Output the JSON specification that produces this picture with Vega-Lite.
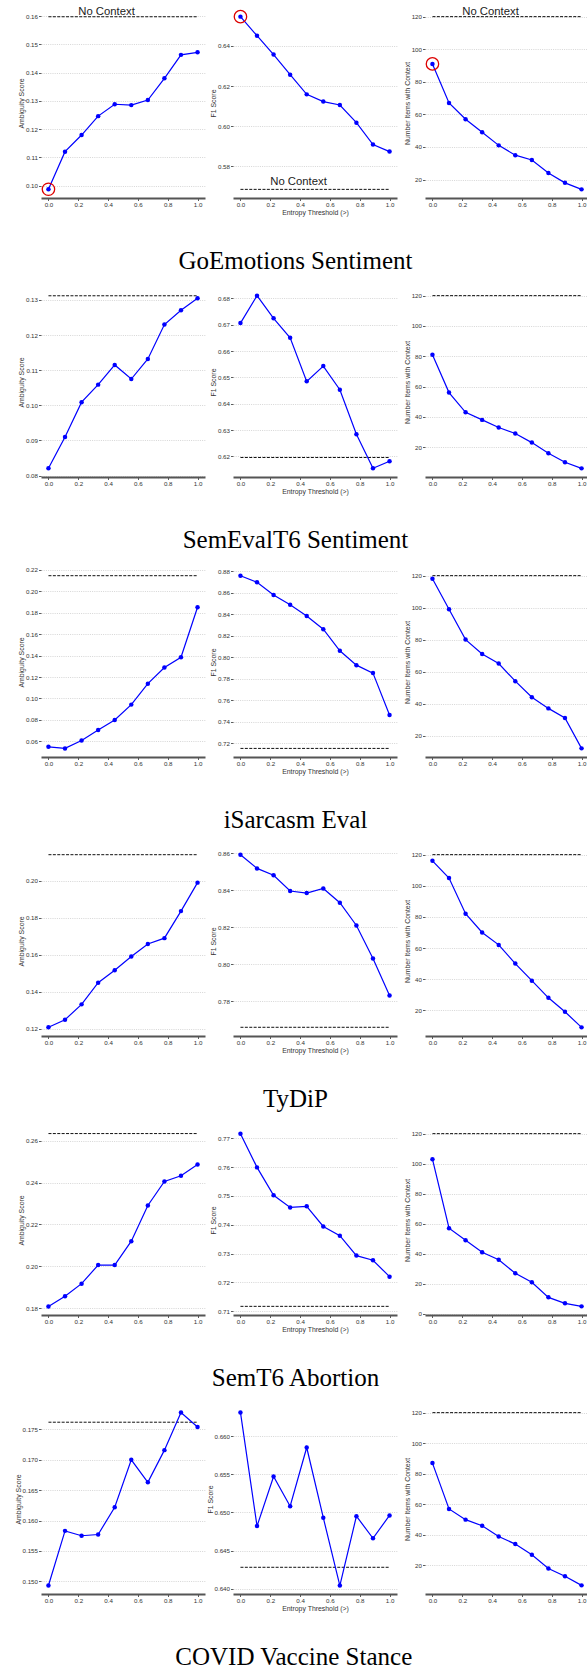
{
"$schema":"https://vega.github.io/schema/vega-lite/v6.json",
"background":"white",
"padding":{"left":14,"top":6,"right":0,"bottom":0},
"spacing":12,
"config":{
 "view":{"stroke":null},
 "axis":{"labelFont":"Liberation Sans","labelFontSize":6.2,"labelColor":"#333","titleFont":"Liberation Sans","titleFontSize":6.9,"titleFontWeight":"normal","titleColor":"#333","tickColor":"#333","tickWidth":0.8,"tickSize":2.5,"labelPadding":1,"labelFlush":false,"labelOverlap":false},
 "axisY":{"domain":false,"grid":true,"gridColor":"#bbb","gridDash":[1,1.2],"gridWidth":0.6,"titlePadding":0.5},
 "axisX":{"grid":false,"domainColor":"#555","domainWidth":1.8,"titlePadding":1.5,"labelPadding":1.2},
 "title":{"font":"Liberation Serif","fontSize":25,"fontWeight":"normal","color":"#000","orient":"bottom","anchor":"middle","offset":34,"dx":-8}
},
"datasets":{
 "ctx":[
  {"ds":"go","m":"amb","v":0.1598},{"ds":"go","m":"f1","v":0.5686},{"ds":"go","m":"n","v":120},
  {"ds":"se","m":"amb","v":0.1312},{"ds":"se","m":"f1","v":0.6196},{"ds":"se","m":"n","v":120},
  {"ds":"is","m":"amb","v":0.2144},{"ds":"is","m":"f1","v":0.7150},{"ds":"is","m":"n","v":120},
  {"ds":"ty","m":"amb","v":0.2142},{"ds":"ty","m":"f1","v":0.7660},{"ds":"ty","m":"n","v":120},
  {"ds":"ab","m":"amb","v":0.2635},{"ds":"ab","m":"f1","v":0.7117},{"ds":"ab","m":"n","v":120},
  {"ds":"cv","m":"amb","v":0.1762},{"ds":"cv","m":"f1","v":0.6428},{"ds":"cv","m":"n","v":120}
 ],
 "pts":[
  {"ds":"go","m":"amb","t":0,"v":0.0987},{"ds":"go","m":"amb","t":0.1111,"v":0.1120},{"ds":"go","m":"amb","t":0.2222,"v":0.1179},{"ds":"go","m":"amb","t":0.3333,"v":0.1246},{"ds":"go","m":"amb","t":0.4444,"v":0.1288},{"ds":"go","m":"amb","t":0.5556,"v":0.1285},{"ds":"go","m":"amb","t":0.6667,"v":0.1303},{"ds":"go","m":"amb","t":0.7778,"v":0.1380},{"ds":"go","m":"amb","t":0.8889,"v":0.1463},{"ds":"go","m":"amb","t":1,"v":0.1472},
  {"ds":"go","m":"f1","t":0,"v":0.6546},{"ds":"go","m":"f1","t":0.1111,"v":0.6451},{"ds":"go","m":"f1","t":0.2222,"v":0.6357},{"ds":"go","m":"f1","t":0.3333,"v":0.6257},{"ds":"go","m":"f1","t":0.4444,"v":0.6159},{"ds":"go","m":"f1","t":0.5556,"v":0.6123},{"ds":"go","m":"f1","t":0.6667,"v":0.6106},{"ds":"go","m":"f1","t":0.7778,"v":0.6018},{"ds":"go","m":"f1","t":0.8889,"v":0.5909},{"ds":"go","m":"f1","t":1,"v":0.5874},
  {"ds":"go","m":"n","t":0,"v":91},{"ds":"go","m":"n","t":0.1111,"v":67},{"ds":"go","m":"n","t":0.2222,"v":57},{"ds":"go","m":"n","t":0.3333,"v":49},{"ds":"go","m":"n","t":0.4444,"v":41},{"ds":"go","m":"n","t":0.5556,"v":35},{"ds":"go","m":"n","t":0.6667,"v":32},{"ds":"go","m":"n","t":0.7778,"v":24},{"ds":"go","m":"n","t":0.8889,"v":18},{"ds":"go","m":"n","t":1,"v":14},
  {"ds":"se","m":"amb","t":0,"v":0.0821},{"ds":"se","m":"amb","t":0.1111,"v":0.0910},{"ds":"se","m":"amb","t":0.2222,"v":0.1009},{"ds":"se","m":"amb","t":0.3333,"v":0.1059},{"ds":"se","m":"amb","t":0.4444,"v":0.1115},{"ds":"se","m":"amb","t":0.5556,"v":0.1075},{"ds":"se","m":"amb","t":0.6667,"v":0.1132},{"ds":"se","m":"amb","t":0.7778,"v":0.1230},{"ds":"se","m":"amb","t":0.8889,"v":0.1271},{"ds":"se","m":"amb","t":1,"v":0.1305},
  {"ds":"se","m":"f1","t":0,"v":0.6706},{"ds":"se","m":"f1","t":0.1111,"v":0.6810},{"ds":"se","m":"f1","t":0.2222,"v":0.6724},{"ds":"se","m":"f1","t":0.3333,"v":0.6650},{"ds":"se","m":"f1","t":0.4444,"v":0.6485},{"ds":"se","m":"f1","t":0.5556,"v":0.6543},{"ds":"se","m":"f1","t":0.6667,"v":0.6453},{"ds":"se","m":"f1","t":0.7778,"v":0.6284},{"ds":"se","m":"f1","t":0.8889,"v":0.6155},{"ds":"se","m":"f1","t":1,"v":0.6182},
  {"ds":"se","m":"n","t":0,"v":81},{"ds":"se","m":"n","t":0.1111,"v":56},{"ds":"se","m":"n","t":0.2222,"v":43},{"ds":"se","m":"n","t":0.3333,"v":38},{"ds":"se","m":"n","t":0.4444,"v":33},{"ds":"se","m":"n","t":0.5556,"v":29},{"ds":"se","m":"n","t":0.6667,"v":23},{"ds":"se","m":"n","t":0.7778,"v":16},{"ds":"se","m":"n","t":0.8889,"v":10},{"ds":"se","m":"n","t":1,"v":6},
  {"ds":"is","m":"amb","t":0,"v":0.0550},{"ds":"is","m":"amb","t":0.1111,"v":0.0535},{"ds":"is","m":"amb","t":0.2222,"v":0.0609},{"ds":"is","m":"amb","t":0.3333,"v":0.0706},{"ds":"is","m":"amb","t":0.4444,"v":0.0800},{"ds":"is","m":"amb","t":0.5556,"v":0.0943},{"ds":"is","m":"amb","t":0.6667,"v":0.1138},{"ds":"is","m":"amb","t":0.7778,"v":0.1288},{"ds":"is","m":"amb","t":0.8889,"v":0.1384},{"ds":"is","m":"amb","t":1,"v":0.1850},
  {"ds":"is","m":"f1","t":0,"v":0.8760},{"ds":"is","m":"f1","t":0.1111,"v":0.8698},{"ds":"is","m":"f1","t":0.2222,"v":0.8581},{"ds":"is","m":"f1","t":0.3333,"v":0.8490},{"ds":"is","m":"f1","t":0.4444,"v":0.8385},{"ds":"is","m":"f1","t":0.5556,"v":0.8261},{"ds":"is","m":"f1","t":0.6667,"v":0.8060},{"ds":"is","m":"f1","t":0.7778,"v":0.7926},{"ds":"is","m":"f1","t":0.8889,"v":0.7852},{"ds":"is","m":"f1","t":1,"v":0.7461},
  {"ds":"is","m":"n","t":0,"v":118},{"ds":"is","m":"n","t":0.1111,"v":99},{"ds":"is","m":"n","t":0.2222,"v":80},{"ds":"is","m":"n","t":0.3333,"v":71},{"ds":"is","m":"n","t":0.4444,"v":65},{"ds":"is","m":"n","t":0.5556,"v":54},{"ds":"is","m":"n","t":0.6667,"v":44},{"ds":"is","m":"n","t":0.7778,"v":37},{"ds":"is","m":"n","t":0.8889,"v":31},{"ds":"is","m":"n","t":1,"v":12},
  {"ds":"ty","m":"amb","t":0,"v":0.1209},{"ds":"ty","m":"amb","t":0.1111,"v":0.1250},{"ds":"ty","m":"amb","t":0.2222,"v":0.1333},{"ds":"ty","m":"amb","t":0.3333,"v":0.1450},{"ds":"ty","m":"amb","t":0.4444,"v":0.1517},{"ds":"ty","m":"amb","t":0.5556,"v":0.1592},{"ds":"ty","m":"amb","t":0.6667,"v":0.1659},{"ds":"ty","m":"amb","t":0.7778,"v":0.1691},{"ds":"ty","m":"amb","t":0.8889,"v":0.1837},{"ds":"ty","m":"amb","t":1,"v":0.1991},
  {"ds":"ty","m":"f1","t":0,"v":0.8591},{"ds":"ty","m":"f1","t":0.1111,"v":0.8517},{"ds":"ty","m":"f1","t":0.2222,"v":0.8480},{"ds":"ty","m":"f1","t":0.3333,"v":0.8395},{"ds":"ty","m":"f1","t":0.4444,"v":0.8384},{"ds":"ty","m":"f1","t":0.5556,"v":0.8409},{"ds":"ty","m":"f1","t":0.6667,"v":0.8332},{"ds":"ty","m":"f1","t":0.7778,"v":0.8209},{"ds":"ty","m":"f1","t":0.8889,"v":0.8031},{"ds":"ty","m":"f1","t":1,"v":0.7832},
  {"ds":"ty","m":"n","t":0,"v":116},{"ds":"ty","m":"n","t":0.1111,"v":105},{"ds":"ty","m":"n","t":0.2222,"v":82},{"ds":"ty","m":"n","t":0.3333,"v":70},{"ds":"ty","m":"n","t":0.4444,"v":62},{"ds":"ty","m":"n","t":0.5556,"v":50},{"ds":"ty","m":"n","t":0.6667,"v":39},{"ds":"ty","m":"n","t":0.7778,"v":28},{"ds":"ty","m":"n","t":0.8889,"v":19},{"ds":"ty","m":"n","t":1,"v":9},
  {"ds":"ab","m":"amb","t":0,"v":0.1808},{"ds":"ab","m":"amb","t":0.1111,"v":0.1857},{"ds":"ab","m":"amb","t":0.2222,"v":0.1917},{"ds":"ab","m":"amb","t":0.3333,"v":0.2006},{"ds":"ab","m":"amb","t":0.4444,"v":0.2006},{"ds":"ab","m":"amb","t":0.5556,"v":0.2120},{"ds":"ab","m":"amb","t":0.6667,"v":0.2291},{"ds":"ab","m":"amb","t":0.7778,"v":0.2406},{"ds":"ab","m":"amb","t":0.8889,"v":0.2433},{"ds":"ab","m":"amb","t":1,"v":0.2487},
  {"ds":"ab","m":"f1","t":0,"v":0.7716},{"ds":"ab","m":"f1","t":0.1111,"v":0.7599},{"ds":"ab","m":"f1","t":0.2222,"v":0.7502},{"ds":"ab","m":"f1","t":0.3333,"v":0.7460},{"ds":"ab","m":"f1","t":0.4444,"v":0.7464},{"ds":"ab","m":"f1","t":0.5556,"v":0.7394},{"ds":"ab","m":"f1","t":0.6667,"v":0.7362},{"ds":"ab","m":"f1","t":0.7778,"v":0.7293},{"ds":"ab","m":"f1","t":0.8889,"v":0.7277},{"ds":"ab","m":"f1","t":1,"v":0.7220},
  {"ds":"ab","m":"n","t":0,"v":103},{"ds":"ab","m":"n","t":0.1111,"v":57},{"ds":"ab","m":"n","t":0.2222,"v":49},{"ds":"ab","m":"n","t":0.3333,"v":41},{"ds":"ab","m":"n","t":0.4444,"v":36},{"ds":"ab","m":"n","t":0.5556,"v":27},{"ds":"ab","m":"n","t":0.6667,"v":21},{"ds":"ab","m":"n","t":0.7778,"v":11},{"ds":"ab","m":"n","t":0.8889,"v":7},{"ds":"ab","m":"n","t":1,"v":5},
  {"ds":"cv","m":"amb","t":0,"v":0.1493},{"ds":"cv","m":"amb","t":0.1111,"v":0.1583},{"ds":"cv","m":"amb","t":0.2222,"v":0.1575},{"ds":"cv","m":"amb","t":0.3333,"v":0.1577},{"ds":"cv","m":"amb","t":0.4444,"v":0.1622},{"ds":"cv","m":"amb","t":0.5556,"v":0.1700},{"ds":"cv","m":"amb","t":0.6667,"v":0.1663},{"ds":"cv","m":"amb","t":0.7778,"v":0.1716},{"ds":"cv","m":"amb","t":0.8889,"v":0.1778},{"ds":"cv","m":"amb","t":1,"v":0.1754},
  {"ds":"cv","m":"f1","t":0,"v":0.6631},{"ds":"cv","m":"f1","t":0.1111,"v":0.6482},{"ds":"cv","m":"f1","t":0.2222,"v":0.6547},{"ds":"cv","m":"f1","t":0.3333,"v":0.6508},{"ds":"cv","m":"f1","t":0.4444,"v":0.6585},{"ds":"cv","m":"f1","t":0.5556,"v":0.6493},{"ds":"cv","m":"f1","t":0.6667,"v":0.6404},{"ds":"cv","m":"f1","t":0.7778,"v":0.6495},{"ds":"cv","m":"f1","t":0.8889,"v":0.6466},{"ds":"cv","m":"f1","t":1,"v":0.6496},
  {"ds":"cv","m":"n","t":0,"v":87},{"ds":"cv","m":"n","t":0.1111,"v":57},{"ds":"cv","m":"n","t":0.2222,"v":50},{"ds":"cv","m":"n","t":0.3333,"v":46},{"ds":"cv","m":"n","t":0.4444,"v":39},{"ds":"cv","m":"n","t":0.5556,"v":34},{"ds":"cv","m":"n","t":0.6667,"v":27},{"ds":"cv","m":"n","t":0.7778,"v":18},{"ds":"cv","m":"n","t":0.8889,"v":13},{"ds":"cv","m":"n","t":1,"v":7}
 ]
},
"vconcat":[
{"title":{"text":"GoEmotions Sentiment"},"bounds":"flush","spacing":28,"hconcat":[
 {"width":164,"height":190,
  "encoding":{"y":{"field":"v","type":"quantitative","scale":{"domain":[0.0956,0.1629],"nice":false,"zero":false},"axis":{"values":[0.10,0.11,0.12,0.13,0.14,0.15,0.16],"format":".2f","title":"Ambiguity Score"}}},
  "layer":[
   {"data":{"name":"ctx"},"transform":[{"filter":"datum.ds=='go'&&datum.m=='amb'"}],"mark":{"type":"rule","color":"#111","strokeWidth":1,"strokeDash":[3,1.4]},"encoding":{"x":{"datum":0,"type":"quantitative","scale":{"domain":[-0.05,1.05],"nice":false},"axis":{"values":[0,0.2,0.4,0.6,0.8,1],"format":".1f","title":null}},"x2":{"datum":1}}},
   {"data":{"name":"ctx"},"transform":[{"filter":"datum.ds=='go'&&datum.m=='amb'"}],"mark":{"type":"text","text":"No Context","align":"left","baseline":"alphabetic","dy":-1.5,"font":"Liberation Sans","fontSize":11.3,"color":"#222"},"encoding":{"x":{"datum":0.2,"type":"quantitative","scale":{"domain":[-0.05,1.05],"nice":false},"axis":{"values":[0,0.2,0.4,0.6,0.8,1],"format":".1f","title":null}}}},
   {"data":{"name":"pts"},"transform":[{"filter":"datum.ds=='go'&&datum.m=='amb'"}],"mark":{"type":"line","color":"#0000ff","strokeWidth":1.2,"point":{"filled":true,"size":20,"color":"#0000ff","opacity":1}},"encoding":{"x":{"field":"t","type":"quantitative","scale":{"domain":[-0.05,1.05],"nice":false},"axis":{"values":[0,0.2,0.4,0.6,0.8,1],"format":".1f","title":null}}}},
   {"data":{"name":"pts"},"transform":[{"filter":"datum.ds=='go'&&datum.m=='amb'&&datum.t==0"}],"mark":{"type":"point","shape":"circle","filled":false,"size":154,"stroke":"#dd0000","strokeWidth":1.3,"opacity":1},"encoding":{"x":{"field":"t","type":"quantitative","scale":{"domain":[-0.05,1.05],"nice":false},"axis":{"values":[0,0.2,0.4,0.6,0.8,1],"format":".1f","title":null}}}}
  ]},
 {"width":164,"height":190,
  "encoding":{"y":{"field":"v","type":"quantitative","scale":{"domain":[0.5643,0.6589],"nice":false,"zero":false},"axis":{"values":[0.58,0.60,0.62,0.64],"format":".2f","title":"F1 Score"}}},
  "layer":[
   {"data":{"name":"ctx"},"transform":[{"filter":"datum.ds=='go'&&datum.m=='f1'"}],"mark":{"type":"rule","color":"#111","strokeWidth":1,"strokeDash":[3,1.4]},"encoding":{"x":{"datum":0,"type":"quantitative","scale":{"domain":[-0.05,1.05],"nice":false},"axis":{"values":[0,0.2,0.4,0.6,0.8,1],"format":".1f","title":"Entropy Threshold (>)"}},"x2":{"datum":1}}},
   {"data":{"name":"ctx"},"transform":[{"filter":"datum.ds=='go'&&datum.m=='f1'"}],"mark":{"type":"text","text":"No Context","align":"left","baseline":"alphabetic","dy":-4.5,"font":"Liberation Sans","fontSize":11.3,"color":"#222"},"encoding":{"x":{"datum":0.2,"type":"quantitative","scale":{"domain":[-0.05,1.05],"nice":false},"axis":{"values":[0,0.2,0.4,0.6,0.8,1],"format":".1f","title":"Entropy Threshold (>)"}}}},
   {"data":{"name":"pts"},"transform":[{"filter":"datum.ds=='go'&&datum.m=='f1'"}],"mark":{"type":"line","color":"#0000ff","strokeWidth":1.2,"point":{"filled":true,"size":20,"color":"#0000ff","opacity":1}},"encoding":{"x":{"field":"t","type":"quantitative","scale":{"domain":[-0.05,1.05],"nice":false},"axis":{"values":[0,0.2,0.4,0.6,0.8,1],"format":".1f","title":"Entropy Threshold (>)"}}}},
   {"data":{"name":"pts"},"transform":[{"filter":"datum.ds=='go'&&datum.m=='f1'&&datum.t==0"}],"mark":{"type":"point","shape":"circle","filled":false,"size":154,"stroke":"#dd0000","strokeWidth":1.3,"opacity":1},"encoding":{"x":{"field":"t","type":"quantitative","scale":{"domain":[-0.05,1.05],"nice":false},"axis":{"values":[0,0.2,0.4,0.6,0.8,1],"format":".1f","title":"Entropy Threshold (>)"}}}}
  ]},
 {"width":164,"height":190,
  "encoding":{"y":{"field":"v","type":"quantitative","scale":{"domain":[8.7,125.3],"nice":false,"zero":false},"axis":{"values":[20,40,60,80,100,120],"format":"d","title":"Number Items with Context"}}},
  "layer":[
   {"data":{"name":"ctx"},"transform":[{"filter":"datum.ds=='go'&&datum.m=='n'"}],"mark":{"type":"rule","color":"#111","strokeWidth":1,"strokeDash":[3,1.4]},"encoding":{"x":{"datum":0,"type":"quantitative","scale":{"domain":[-0.05,1.05],"nice":false},"axis":{"values":[0,0.2,0.4,0.6,0.8,1],"format":".1f","title":null}},"x2":{"datum":1}}},
   {"data":{"name":"ctx"},"transform":[{"filter":"datum.ds=='go'&&datum.m=='n'"}],"mark":{"type":"text","text":"No Context","align":"left","baseline":"alphabetic","dy":-1.5,"font":"Liberation Sans","fontSize":11.3,"color":"#222"},"encoding":{"x":{"datum":0.2,"type":"quantitative","scale":{"domain":[-0.05,1.05],"nice":false},"axis":{"values":[0,0.2,0.4,0.6,0.8,1],"format":".1f","title":null}}}},
   {"data":{"name":"pts"},"transform":[{"filter":"datum.ds=='go'&&datum.m=='n'"}],"mark":{"type":"line","color":"#0000ff","strokeWidth":1.2,"point":{"filled":true,"size":20,"color":"#0000ff","opacity":1}},"encoding":{"x":{"field":"t","type":"quantitative","scale":{"domain":[-0.05,1.05],"nice":false},"axis":{"values":[0,0.2,0.4,0.6,0.8,1],"format":".1f","title":null}}}},
   {"data":{"name":"pts"},"transform":[{"filter":"datum.ds=='go'&&datum.m=='n'&&datum.t==0"}],"mark":{"type":"point","shape":"circle","filled":false,"size":154,"stroke":"#dd0000","strokeWidth":1.3,"opacity":1},"encoding":{"x":{"field":"t","type":"quantitative","scale":{"domain":[-0.05,1.05],"nice":false},"axis":{"values":[0,0.2,0.4,0.6,0.8,1],"format":".1f","title":null}}}}
  ]}
]},
{"title":{"text":"SemEvalT6 Sentiment"},"bounds":"flush","spacing":28,"hconcat":[
 {"width":164,"height":190,
  "encoding":{"y":{"field":"v","type":"quantitative","scale":{"domain":[0.0796,0.1337],"nice":false,"zero":false},"axis":{"values":[0.08,0.09,0.10,0.11,0.12,0.13],"format":".2f","title":"Ambiguity Score"}}},
  "layer":[
   {"data":{"name":"ctx"},"transform":[{"filter":"datum.ds=='se'&&datum.m=='amb'"}],"mark":{"type":"rule","color":"#111","strokeWidth":1,"strokeDash":[3,1.4]},"encoding":{"x":{"datum":0,"type":"quantitative","scale":{"domain":[-0.05,1.05],"nice":false},"axis":{"values":[0,0.2,0.4,0.6,0.8,1],"format":".1f","title":null}},"x2":{"datum":1}}},
   {"data":{"name":"pts"},"transform":[{"filter":"datum.ds=='se'&&datum.m=='amb'"}],"mark":{"type":"line","color":"#0000ff","strokeWidth":1.2,"point":{"filled":true,"size":20,"color":"#0000ff","opacity":1}},"encoding":{"x":{"field":"t","type":"quantitative","scale":{"domain":[-0.05,1.05],"nice":false},"axis":{"values":[0,0.2,0.4,0.6,0.8,1],"format":".1f","title":null}}}}
  ]},
 {"width":164,"height":190,
  "encoding":{"y":{"field":"v","type":"quantitative","scale":{"domain":[0.6122,0.6843],"nice":false,"zero":false},"axis":{"values":[0.62,0.63,0.64,0.65,0.66,0.67,0.68],"format":".2f","title":"F1 Score"}}},
  "layer":[
   {"data":{"name":"ctx"},"transform":[{"filter":"datum.ds=='se'&&datum.m=='f1'"}],"mark":{"type":"rule","color":"#111","strokeWidth":1,"strokeDash":[3,1.4]},"encoding":{"x":{"datum":0,"type":"quantitative","scale":{"domain":[-0.05,1.05],"nice":false},"axis":{"values":[0,0.2,0.4,0.6,0.8,1],"format":".1f","title":"Entropy Threshold (>)"}},"x2":{"datum":1}}},
   {"data":{"name":"pts"},"transform":[{"filter":"datum.ds=='se'&&datum.m=='f1'"}],"mark":{"type":"line","color":"#0000ff","strokeWidth":1.2,"point":{"filled":true,"size":20,"color":"#0000ff","opacity":1}},"encoding":{"x":{"field":"t","type":"quantitative","scale":{"domain":[-0.05,1.05],"nice":false},"axis":{"values":[0,0.2,0.4,0.6,0.8,1],"format":".1f","title":"Entropy Threshold (>)"}}}}
  ]},
 {"width":164,"height":190,
  "encoding":{"y":{"field":"v","type":"quantitative","scale":{"domain":[0.3,125.7],"nice":false,"zero":false},"axis":{"values":[20,40,60,80,100,120],"format":"d","title":"Number Items with Context"}}},
  "layer":[
   {"data":{"name":"ctx"},"transform":[{"filter":"datum.ds=='se'&&datum.m=='n'"}],"mark":{"type":"rule","color":"#111","strokeWidth":1,"strokeDash":[3,1.4]},"encoding":{"x":{"datum":0,"type":"quantitative","scale":{"domain":[-0.05,1.05],"nice":false},"axis":{"values":[0,0.2,0.4,0.6,0.8,1],"format":".1f","title":null}},"x2":{"datum":1}}},
   {"data":{"name":"pts"},"transform":[{"filter":"datum.ds=='se'&&datum.m=='n'"}],"mark":{"type":"line","color":"#0000ff","strokeWidth":1.2,"point":{"filled":true,"size":20,"color":"#0000ff","opacity":1}},"encoding":{"x":{"field":"t","type":"quantitative","scale":{"domain":[-0.05,1.05],"nice":false},"axis":{"values":[0,0.2,0.4,0.6,0.8,1],"format":".1f","title":null}}}}
  ]}
]},
{"title":{"text":"iSarcasm Eval"},"bounds":"flush","spacing":28,"hconcat":[
 {"width":164,"height":190,
  "encoding":{"y":{"field":"v","type":"quantitative","scale":{"domain":[0.0455,0.2225],"nice":false,"zero":false},"axis":{"values":[0.06,0.08,0.10,0.12,0.14,0.16,0.18,0.20,0.22],"format":".2f","title":"Ambiguity Score"}}},
  "layer":[
   {"data":{"name":"ctx"},"transform":[{"filter":"datum.ds=='is'&&datum.m=='amb'"}],"mark":{"type":"rule","color":"#111","strokeWidth":1,"strokeDash":[3,1.4]},"encoding":{"x":{"datum":0,"type":"quantitative","scale":{"domain":[-0.05,1.05],"nice":false},"axis":{"values":[0,0.2,0.4,0.6,0.8,1],"format":".1f","title":null}},"x2":{"datum":1}}},
   {"data":{"name":"pts"},"transform":[{"filter":"datum.ds=='is'&&datum.m=='amb'"}],"mark":{"type":"line","color":"#0000ff","strokeWidth":1.2,"point":{"filled":true,"size":20,"color":"#0000ff","opacity":1}},"encoding":{"x":{"field":"t","type":"quantitative","scale":{"domain":[-0.05,1.05],"nice":false},"axis":{"values":[0,0.2,0.4,0.6,0.8,1],"format":".1f","title":null}}}}
  ]},
 {"width":164,"height":190,
  "encoding":{"y":{"field":"v","type":"quantitative","scale":{"domain":[0.7070,0.8841],"nice":false,"zero":false},"axis":{"values":[0.72,0.74,0.76,0.78,0.80,0.82,0.84,0.86,0.88],"format":".2f","title":"F1 Score"}}},
  "layer":[
   {"data":{"name":"ctx"},"transform":[{"filter":"datum.ds=='is'&&datum.m=='f1'"}],"mark":{"type":"rule","color":"#111","strokeWidth":1,"strokeDash":[3,1.4]},"encoding":{"x":{"datum":0,"type":"quantitative","scale":{"domain":[-0.05,1.05],"nice":false},"axis":{"values":[0,0.2,0.4,0.6,0.8,1],"format":".1f","title":"Entropy Threshold (>)"}},"x2":{"datum":1}}},
   {"data":{"name":"pts"},"transform":[{"filter":"datum.ds=='is'&&datum.m=='f1'"}],"mark":{"type":"line","color":"#0000ff","strokeWidth":1.2,"point":{"filled":true,"size":20,"color":"#0000ff","opacity":1}},"encoding":{"x":{"field":"t","type":"quantitative","scale":{"domain":[-0.05,1.05],"nice":false},"axis":{"values":[0,0.2,0.4,0.6,0.8,1],"format":".1f","title":"Entropy Threshold (>)"}}}}
  ]},
 {"width":164,"height":190,
  "encoding":{"y":{"field":"v","type":"quantitative","scale":{"domain":[6.6,125.4],"nice":false,"zero":false},"axis":{"values":[20,40,60,80,100,120],"format":"d","title":"Number Items with Context"}}},
  "layer":[
   {"data":{"name":"ctx"},"transform":[{"filter":"datum.ds=='is'&&datum.m=='n'"}],"mark":{"type":"rule","color":"#111","strokeWidth":1,"strokeDash":[3,1.4]},"encoding":{"x":{"datum":0,"type":"quantitative","scale":{"domain":[-0.05,1.05],"nice":false},"axis":{"values":[0,0.2,0.4,0.6,0.8,1],"format":".1f","title":null}},"x2":{"datum":1}}},
   {"data":{"name":"pts"},"transform":[{"filter":"datum.ds=='is'&&datum.m=='n'"}],"mark":{"type":"line","color":"#0000ff","strokeWidth":1.2,"point":{"filled":true,"size":20,"color":"#0000ff","opacity":1}},"encoding":{"x":{"field":"t","type":"quantitative","scale":{"domain":[-0.05,1.05],"nice":false},"axis":{"values":[0,0.2,0.4,0.6,0.8,1],"format":".1f","title":null}}}}
  ]}
]},
{"title":{"text":"TyDiP"},"bounds":"flush","spacing":28,"hconcat":[
 {"width":164,"height":190,
  "encoding":{"y":{"field":"v","type":"quantitative","scale":{"domain":[0.1162,0.2189],"nice":false,"zero":false},"axis":{"values":[0.12,0.14,0.16,0.18,0.20],"format":".2f","title":"Ambiguity Score"}}},
  "layer":[
   {"data":{"name":"ctx"},"transform":[{"filter":"datum.ds=='ty'&&datum.m=='amb'"}],"mark":{"type":"rule","color":"#111","strokeWidth":1,"strokeDash":[3,1.4]},"encoding":{"x":{"datum":0,"type":"quantitative","scale":{"domain":[-0.05,1.05],"nice":false},"axis":{"values":[0,0.2,0.4,0.6,0.8,1],"format":".1f","title":null}},"x2":{"datum":1}}},
   {"data":{"name":"pts"},"transform":[{"filter":"datum.ds=='ty'&&datum.m=='amb'"}],"mark":{"type":"line","color":"#0000ff","strokeWidth":1.2,"point":{"filled":true,"size":20,"color":"#0000ff","opacity":1}},"encoding":{"x":{"field":"t","type":"quantitative","scale":{"domain":[-0.05,1.05],"nice":false},"axis":{"values":[0,0.2,0.4,0.6,0.8,1],"format":".1f","title":null}}}}
  ]},
 {"width":164,"height":190,
  "encoding":{"y":{"field":"v","type":"quantitative","scale":{"domain":[0.7613,0.8638],"nice":false,"zero":false},"axis":{"values":[0.78,0.80,0.82,0.84,0.86],"format":".2f","title":"F1 Score"}}},
  "layer":[
   {"data":{"name":"ctx"},"transform":[{"filter":"datum.ds=='ty'&&datum.m=='f1'"}],"mark":{"type":"rule","color":"#111","strokeWidth":1,"strokeDash":[3,1.4]},"encoding":{"x":{"datum":0,"type":"quantitative","scale":{"domain":[-0.05,1.05],"nice":false},"axis":{"values":[0,0.2,0.4,0.6,0.8,1],"format":".1f","title":"Entropy Threshold (>)"}},"x2":{"datum":1}}},
   {"data":{"name":"pts"},"transform":[{"filter":"datum.ds=='ty'&&datum.m=='f1'"}],"mark":{"type":"line","color":"#0000ff","strokeWidth":1.2,"point":{"filled":true,"size":20,"color":"#0000ff","opacity":1}},"encoding":{"x":{"field":"t","type":"quantitative","scale":{"domain":[-0.05,1.05],"nice":false},"axis":{"values":[0,0.2,0.4,0.6,0.8,1],"format":".1f","title":"Entropy Threshold (>)"}}}}
  ]},
 {"width":164,"height":190,
  "encoding":{"y":{"field":"v","type":"quantitative","scale":{"domain":[3.45,125.55],"nice":false,"zero":false},"axis":{"values":[20,40,60,80,100,120],"format":"d","title":"Number Items with Context"}}},
  "layer":[
   {"data":{"name":"ctx"},"transform":[{"filter":"datum.ds=='ty'&&datum.m=='n'"}],"mark":{"type":"rule","color":"#111","strokeWidth":1,"strokeDash":[3,1.4]},"encoding":{"x":{"datum":0,"type":"quantitative","scale":{"domain":[-0.05,1.05],"nice":false},"axis":{"values":[0,0.2,0.4,0.6,0.8,1],"format":".1f","title":null}},"x2":{"datum":1}}},
   {"data":{"name":"pts"},"transform":[{"filter":"datum.ds=='ty'&&datum.m=='n'"}],"mark":{"type":"line","color":"#0000ff","strokeWidth":1.2,"point":{"filled":true,"size":20,"color":"#0000ff","opacity":1}},"encoding":{"x":{"field":"t","type":"quantitative","scale":{"domain":[-0.05,1.05],"nice":false},"axis":{"values":[0,0.2,0.4,0.6,0.8,1],"format":".1f","title":null}}}}
  ]}
]},
{"title":{"text":"SemT6 Abortion"},"bounds":"flush","spacing":28,"hconcat":[
 {"width":164,"height":190,
  "encoding":{"y":{"field":"v","type":"quantitative","scale":{"domain":[0.1767,0.2676],"nice":false,"zero":false},"axis":{"values":[0.18,0.20,0.22,0.24,0.26],"format":".2f","title":"Ambiguity Score"}}},
  "layer":[
   {"data":{"name":"ctx"},"transform":[{"filter":"datum.ds=='ab'&&datum.m=='amb'"}],"mark":{"type":"rule","color":"#111","strokeWidth":1,"strokeDash":[3,1.4]},"encoding":{"x":{"datum":0,"type":"quantitative","scale":{"domain":[-0.05,1.05],"nice":false},"axis":{"values":[0,0.2,0.4,0.6,0.8,1],"format":".1f","title":null}},"x2":{"datum":1}}},
   {"data":{"name":"pts"},"transform":[{"filter":"datum.ds=='ab'&&datum.m=='amb'"}],"mark":{"type":"line","color":"#0000ff","strokeWidth":1.2,"point":{"filled":true,"size":20,"color":"#0000ff","opacity":1}},"encoding":{"x":{"field":"t","type":"quantitative","scale":{"domain":[-0.05,1.05],"nice":false},"axis":{"values":[0,0.2,0.4,0.6,0.8,1],"format":".1f","title":null}}}}
  ]},
 {"width":164,"height":190,
  "encoding":{"y":{"field":"v","type":"quantitative","scale":{"domain":[0.7087,0.7746],"nice":false,"zero":false},"axis":{"values":[0.71,0.72,0.73,0.74,0.75,0.76,0.77],"format":".2f","title":"F1 Score"}}},
  "layer":[
   {"data":{"name":"ctx"},"transform":[{"filter":"datum.ds=='ab'&&datum.m=='f1'"}],"mark":{"type":"rule","color":"#111","strokeWidth":1,"strokeDash":[3,1.4]},"encoding":{"x":{"datum":0,"type":"quantitative","scale":{"domain":[-0.05,1.05],"nice":false},"axis":{"values":[0,0.2,0.4,0.6,0.8,1],"format":".1f","title":"Entropy Threshold (>)"}},"x2":{"datum":1}}},
   {"data":{"name":"pts"},"transform":[{"filter":"datum.ds=='ab'&&datum.m=='f1'"}],"mark":{"type":"line","color":"#0000ff","strokeWidth":1.2,"point":{"filled":true,"size":20,"color":"#0000ff","opacity":1}},"encoding":{"x":{"field":"t","type":"quantitative","scale":{"domain":[-0.05,1.05],"nice":false},"axis":{"values":[0,0.2,0.4,0.6,0.8,1],"format":".1f","title":"Entropy Threshold (>)"}}}}
  ]},
 {"width":164,"height":190,
  "encoding":{"y":{"field":"v","type":"quantitative","scale":{"domain":[-0.75,125.75],"nice":false,"zero":false},"axis":{"values":[0,20,40,60,80,100,120],"format":"d","title":"Number Items with Context"}}},
  "layer":[
   {"data":{"name":"ctx"},"transform":[{"filter":"datum.ds=='ab'&&datum.m=='n'"}],"mark":{"type":"rule","color":"#111","strokeWidth":1,"strokeDash":[3,1.4]},"encoding":{"x":{"datum":0,"type":"quantitative","scale":{"domain":[-0.05,1.05],"nice":false},"axis":{"values":[0,0.2,0.4,0.6,0.8,1],"format":".1f","title":null}},"x2":{"datum":1}}},
   {"data":{"name":"pts"},"transform":[{"filter":"datum.ds=='ab'&&datum.m=='n'"}],"mark":{"type":"line","color":"#0000ff","strokeWidth":1.2,"point":{"filled":true,"size":20,"color":"#0000ff","opacity":1}},"encoding":{"x":{"field":"t","type":"quantitative","scale":{"domain":[-0.05,1.05],"nice":false},"axis":{"values":[0,0.2,0.4,0.6,0.8,1],"format":".1f","title":null}}}}
  ]}
]},
{"title":{"text":"COVID Vaccine Stance"},"bounds":"flush","spacing":28,"hconcat":[
 {"width":164,"height":190,
  "encoding":{"y":{"field":"v","type":"quantitative","scale":{"domain":[0.1479,0.1792],"nice":false,"zero":false},"axis":{"values":[0.150,0.155,0.160,0.165,0.170,0.175],"format":".3f","title":"Ambiguity Score"}}},
  "layer":[
   {"data":{"name":"ctx"},"transform":[{"filter":"datum.ds=='cv'&&datum.m=='amb'"}],"mark":{"type":"rule","color":"#111","strokeWidth":1,"strokeDash":[3,1.4]},"encoding":{"x":{"datum":0,"type":"quantitative","scale":{"domain":[-0.05,1.05],"nice":false},"axis":{"values":[0,0.2,0.4,0.6,0.8,1],"format":".1f","title":null}},"x2":{"datum":1}}},
   {"data":{"name":"pts"},"transform":[{"filter":"datum.ds=='cv'&&datum.m=='amb'"}],"mark":{"type":"line","color":"#0000ff","strokeWidth":1.2,"point":{"filled":true,"size":20,"color":"#0000ff","opacity":1}},"encoding":{"x":{"field":"t","type":"quantitative","scale":{"domain":[-0.05,1.05],"nice":false},"axis":{"values":[0,0.2,0.4,0.6,0.8,1],"format":".1f","title":null}}}}
  ]},
 {"width":164,"height":190,
  "encoding":{"y":{"field":"v","type":"quantitative","scale":{"domain":[0.6393,0.6642],"nice":false,"zero":false},"axis":{"values":[0.640,0.645,0.650,0.655,0.660],"format":".3f","title":"F1 Score"}}},
  "layer":[
   {"data":{"name":"ctx"},"transform":[{"filter":"datum.ds=='cv'&&datum.m=='f1'"}],"mark":{"type":"rule","color":"#111","strokeWidth":1,"strokeDash":[3,1.4]},"encoding":{"x":{"datum":0,"type":"quantitative","scale":{"domain":[-0.05,1.05],"nice":false},"axis":{"values":[0,0.2,0.4,0.6,0.8,1],"format":".1f","title":"Entropy Threshold (>)"}},"x2":{"datum":1}}},
   {"data":{"name":"pts"},"transform":[{"filter":"datum.ds=='cv'&&datum.m=='f1'"}],"mark":{"type":"line","color":"#0000ff","strokeWidth":1.2,"point":{"filled":true,"size":20,"color":"#0000ff","opacity":1}},"encoding":{"x":{"field":"t","type":"quantitative","scale":{"domain":[-0.05,1.05],"nice":false},"axis":{"values":[0,0.2,0.4,0.6,0.8,1],"format":".1f","title":"Entropy Threshold (>)"}}}}
  ]},
 {"width":164,"height":190,
  "encoding":{"y":{"field":"v","type":"quantitative","scale":{"domain":[1.35,125.65],"nice":false,"zero":false},"axis":{"values":[20,40,60,80,100,120],"format":"d","title":"Number Items with Context"}}},
  "layer":[
   {"data":{"name":"ctx"},"transform":[{"filter":"datum.ds=='cv'&&datum.m=='n'"}],"mark":{"type":"rule","color":"#111","strokeWidth":1,"strokeDash":[3,1.4]},"encoding":{"x":{"datum":0,"type":"quantitative","scale":{"domain":[-0.05,1.05],"nice":false},"axis":{"values":[0,0.2,0.4,0.6,0.8,1],"format":".1f","title":null}},"x2":{"datum":1}}},
   {"data":{"name":"pts"},"transform":[{"filter":"datum.ds=='cv'&&datum.m=='n'"}],"mark":{"type":"line","color":"#0000ff","strokeWidth":1.2,"point":{"filled":true,"size":20,"color":"#0000ff","opacity":1}},"encoding":{"x":{"field":"t","type":"quantitative","scale":{"domain":[-0.05,1.05],"nice":false},"axis":{"values":[0,0.2,0.4,0.6,0.8,1],"format":".1f","title":null}}}}
  ]}
]}
]
}
